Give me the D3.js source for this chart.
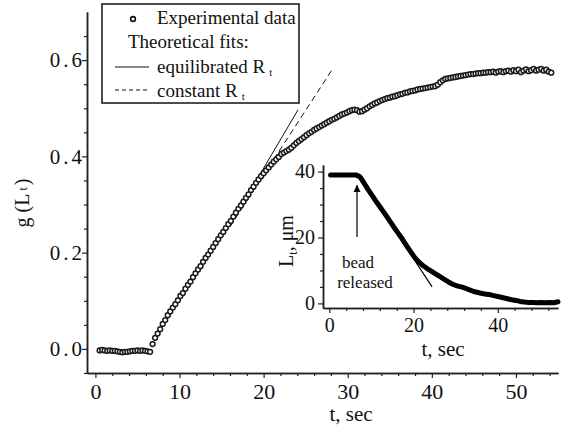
<!DOCTYPE html>
<html>
<head>
<meta charset="utf-8">
<script src="https://cdn.jsdelivr.net/npm/d3@7"></script>
<style>
  body { margin: 0; background: #fff; }
  svg, svg text { font-family: 'Liberation Serif', 'Times New Roman', Times, 'DejaVu Serif', serif; }
</style>
</head>
<body>
<div id="chart"></div>
<script>
const serif = "'Liberation Serif', 'Times New Roman', Times, 'DejaVu Serif', serif"

// Data
// main curve: g(L_t), sampled every 0.3 s starting at 0.5 s
const gStart = 0.5
const gStep = 0.3
const gValues = [
  -0.003, -0.002, -0.003, -0.004, -0.003, -0.004, -0.004, -0.005, -0.006, -0.007,
  -0.006, -0.006, -0.005, -0.004, -0.004, -0.003, -0.004, -0.003, -0.004, -0.005,
  -0.006,
  0.010, 0.023, 0.032, 0.041, 0.052, 0.060, 0.070, 0.078, 0.086, 0.093,
  0.101, 0.110, 0.116, 0.125, 0.133, 0.140, 0.149, 0.157, 0.165, 0.172,
  0.181, 0.189, 0.196, 0.204, 0.212, 0.220, 0.228, 0.236, 0.243, 0.251,
  0.259, 0.266, 0.275, 0.283, 0.291, 0.298, 0.306, 0.314, 0.321, 0.330,
  0.337, 0.345, 0.352, 0.359, 0.365, 0.371, 0.377, 0.383, 0.389, 0.394,
  0.399, 0.405, 0.408, 0.411, 0.414, 0.418, 0.423, 0.428, 0.432, 0.436,
  0.440, 0.444, 0.448, 0.451, 0.455, 0.458, 0.461, 0.464, 0.467, 0.470,
  0.473, 0.476, 0.478, 0.481, 0.484, 0.487, 0.489, 0.491, 0.494, 0.496,
  0.497, 0.496, 0.493, 0.494, 0.497, 0.500, 0.504, 0.507, 0.510, 0.512,
  0.515, 0.517, 0.519, 0.521, 0.522, 0.524, 0.525, 0.527, 0.529, 0.530,
  0.532, 0.533, 0.535, 0.536, 0.537, 0.539, 0.540, 0.541, 0.542, 0.543,
  0.544, 0.545, 0.546, 0.549, 0.554, 0.558, 0.561, 0.562, 0.563, 0.564,
  0.565, 0.566, 0.567, 0.568, 0.569, 0.570, 0.571, 0.571, 0.572, 0.573,
  0.573, 0.574, 0.574, 0.575, 0.575, 0.576, 0.574, 0.576, 0.577, 0.575,
  0.577, 0.578, 0.576, 0.579, 0.577, 0.580, 0.575, 0.578, 0.581, 0.577,
  0.579, 0.582, 0.578, 0.580, 0.582, 0.578, 0.580, 0.576, 0.574
]
// theoretical fits (start / end points, t in s)
const fitEquilibrated = [[16, 0.257], [24.1, 0.497]]
const fitConstant = [[16, 0.254], [28.06, 0.578]]

// inset: L_t in um, sampled every 1 s starting at 0.3 s
const lStart = 0.3
const lStep = 1
const lValues = [
  39, 39, 39, 39, 39, 39, 39,
  38.4, 36.4, 34.4, 32.5, 30.6, 28.8, 27.0, 25.1, 23.2, 21.4,
  19.6, 17.6, 15.7, 13.9, 12.5, 11.4, 10.5, 9.7, 8.9, 8.1,
  7.3, 6.5, 5.8, 5.3, 5.0, 4.6, 4.1, 3.6, 3.3, 3.0,
  2.8, 2.6, 2.3, 2.0, 1.7, 1.4, 1.1, 0.9, 0.6, 0.4,
  0.3, 0.3, 0.2, 0.3, 0.2, 0.3, 0.2, 0.5
]
const lFit = [[7.3, 38.4], [24.4, 5]]

const xTicks = [0, 10, 20, 30, 40, 50]
const yTicks = [0.0, 0.2, 0.4, 0.6]
const insetXTicks = [0, 20, 40]
const insetYTicks = [0, 20, 40]

const mainData = gValues.map((v, i) => ({ t: gStart + i * gStep, g: v }))
const insetData = lValues.map((v, i) => ({ t: lStart + i * lStep, L: v }))

// Dimensions
const width = 573
const height = 434

const svg = d3.select('#chart')
  .append('svg')
  .attr('width', width)
  .attr('height', height)
  .attr('font-family', serif)

// Scales
const x = d3.scaleLinear().domain([-1, 55]).range([87, 558])
const y = d3.scaleLinear().domain([-0.05, 0.7]).range([373, 12])

const ink = '#222'

// Axes
function styleAxis(g) {
  g.attr('font-family', serif)
  g.select('.domain').attr('stroke', ink).attr('stroke-width', 1.5)
  g.selectAll('.tick line').attr('stroke', ink).attr('stroke-width', 1.2)
}

const xMinor = d3.range(0, 55, 2).filter(v => v % 10 !== 0)
svg.append('g')
  .attr('transform', `translate(0, ${y.range()[0]})`)
  .call(d3.axisBottom(x).tickValues(xMinor).tickSize(3).tickFormat('').tickSizeOuter(0))
  .call(styleAxis)

svg.append('g')
  .attr('transform', `translate(0, ${y.range()[0]})`)
  .call(d3.axisBottom(x).tickValues(xTicks).tickSize(5).tickSizeOuter(0).tickPadding(5))
  .call(styleAxis)
  .call(g => g.selectAll('text')
    .attr('font-size', 22).attr('fill', '#111'))

const yMinor = [-0.05, 0.05, 0.1, 0.15, 0.25, 0.3, 0.35, 0.45, 0.5, 0.55, 0.65]
svg.append('g')
  .attr('transform', `translate(${x.range()[0]}, 0)`)
  .call(d3.axisLeft(y).tickValues(yMinor).tickSize(3).tickFormat('').tickSizeOuter(0))
  .call(styleAxis)

svg.append('g')
  .attr('transform', `translate(${x.range()[0]}, 0)`)
  .call(d3.axisLeft(y).tickValues(yTicks).tickSize(5).tickSizeOuter(0)
    .tickFormat(d3.format('.1f')).tickPadding(0))
  .call(styleAxis)
  .call(g => g.selectAll('text')
    .attr('font-size', 21).attr('fill', '#111')
    .attr('dx', 3)
    .attr('letter-spacing', '3px'))

// axis titles
svg.append('text')
  .attr('x', 351).attr('y', 421)
  .attr('text-anchor', 'middle')
  .attr('font-size', 21)
  .attr('fill', '#111')
  .text('t, sec')

svg.append('text')
  .attr('transform', 'translate(29, 203) rotate(-90)')
  .attr('text-anchor', 'middle')
  .attr('font-size', 20)
  .attr('fill', '#111')
  .call(t => t.append('tspan').text('g (L'))
  .call(t => t.append('tspan').attr('font-size', 12).attr('dx', 3).attr('dy', -2).text('t'))
  .call(t => t.append('tspan').attr('dy', 2).attr('dx', 2).text(')'))

// Fit lines
const line = d3.line().x(d => x(d[0])).y(d => y(d[1]))

svg.append('path')
  .attr('d', line(fitEquilibrated))
  .attr('fill', 'none')
  .attr('stroke', '#111')
  .attr('stroke-width', 1)

svg.append('path')
  .attr('d', line(fitConstant))
  .attr('fill', 'none')
  .attr('stroke', '#111')
  .attr('stroke-width', 1)
  .attr('stroke-dasharray', '6,4')

// Experimental points
svg.append('g')
  .selectAll('circle')
  .data(mainData)
  .join('circle')
  .attr('cx', d => x(d.t))
  .attr('cy', d => y(d.g))
  .attr('r', 2.4)
  .attr('fill', '#fff')
  .attr('stroke', '#1a1a1a')
  .attr('stroke-width', 1.5)

// Legend
const legend = svg.append('g')
legend.append('rect')
  .attr('x', 102).attr('y', 4)
  .attr('width', 197).attr('height', 99)
  .attr('fill', '#fff')
  .attr('stroke', '#111')
  .attr('stroke-width', 1.5)

legend.append('circle')
  .attr('cx', 133).attr('cy', 19).attr('r', 2.4)
  .attr('fill', '#fff').attr('stroke', '#111').attr('stroke-width', 1.6)

const legendText = (yy, xx) => legend.append('text')
  .attr('x', xx).attr('y', yy)
  .attr('font-size', 19)
  .attr('fill', '#111')

legendText(24, 157).text('Experimental data')
legendText(48, 128).text('Theoretical fits:')
legendText(73, 157)
  .call(t => t.append('tspan').text('equilibrated R'))
  .call(t => t.append('tspan').attr('font-size', 11).attr('dx', 4).attr('dy', 3).text('t'))
legendText(97, 157)
  .call(t => t.append('tspan').text('constant R'))
  .call(t => t.append('tspan').attr('font-size', 11).attr('dx', 4).attr('dy', 3).text('t'))

legend.append('line')
  .attr('x1', 115).attr('x2', 149).attr('y1', 67).attr('y2', 67)
  .attr('stroke', '#111').attr('stroke-width', 1.2)
legend.append('line')
  .attr('x1', 115).attr('x2', 149).attr('y1', 90).attr('y2', 90)
  .attr('stroke', '#111').attr('stroke-width', 1.2)
  .attr('stroke-dasharray', '4,3')

// Inset
const ix = d3.scaleLinear().domain([-1.5, 54.3]).range([323, 558])
const iy = d3.scaleLinear().domain([-1.4, 42]).range([308, 165])

const inset = svg.append('g')

const ixMinor = d3.range(4, 54, 4).filter(v => v % 20 !== 0)
inset.append('g')
  .attr('transform', `translate(0, ${iy.range()[0]})`)
  .call(d3.axisBottom(ix).tickValues(ixMinor).tickSize(3).tickFormat('').tickSizeOuter(0))
  .call(styleAxis)
inset.append('g')
  .attr('transform', `translate(0, ${iy.range()[0]})`)
  .call(d3.axisBottom(ix).tickValues(insetXTicks).tickSize(5).tickSizeOuter(0).tickPadding(5))
  .call(styleAxis)
  .call(g => g.selectAll('text')
    .attr('font-size', 20).attr('fill', '#111'))

const iyMinor = [5, 10, 15, 25, 30, 35]
inset.append('g')
  .attr('transform', `translate(${ix.range()[0]}, 0)`)
  .call(d3.axisLeft(iy).tickValues(iyMinor).tickSize(3).tickFormat('').tickSizeOuter(0))
  .call(styleAxis)
inset.append('g')
  .attr('transform', `translate(${ix.range()[0]}, 0)`)
  .call(d3.axisLeft(iy).tickValues(insetYTicks).tickSize(5).tickSizeOuter(0).tickPadding(3))
  .call(styleAxis)
  .call(g => g.selectAll('text')
    .attr('font-size', 20).attr('fill', '#111'))

inset.append('text')
  .attr('x', 443).attr('y', 356)
  .attr('text-anchor', 'middle')
  .attr('font-size', 21)
  .attr('fill', '#111')
  .text('t, sec')

inset.append('text')
  .attr('transform', 'translate(293, 241) rotate(-90)')
  .attr('text-anchor', 'middle')
  .attr('font-size', 20)
  .attr('fill', '#111')
  .call(t => t.append('tspan').text('L'))
  .call(t => t.append('tspan').attr('font-size', 12).attr('dy', 4).text('t'))
  .call(t => t.append('tspan').attr('dy', -4).text(', μm'))

const iline = d3.line().x(d => ix(d.t)).y(d => iy(d.L))
inset.append('path')
  .attr('d', iline(insetData))
  .attr('fill', 'none')
  .attr('stroke', '#000')
  .attr('stroke-width', 5)
  .attr('stroke-linejoin', 'round')
  .attr('stroke-linecap', 'round')

inset.append('path')
  .attr('d', d3.line().x(d => ix(d[0])).y(d => iy(d[1]))(lFit))
  .attr('fill', 'none')
  .attr('stroke', '#000')
  .attr('stroke-width', 1.2)

// arrow
svg.append('defs').append('marker')
  .attr('id', 'head')
  .attr('viewBox', '0 0 10 10')
  .attr('refX', 10).attr('refY', 5)
  .attr('markerWidth', 7).attr('markerHeight', 11)
  .attr('markerUnits', 'userSpaceOnUse')
  .attr('orient', 'auto')
  .append('path')
  .attr('d', 'M0,0 L10,5 L0,10 Z')
  .attr('fill', '#000')

inset.append('line')
  .attr('x1', 357).attr('x2', 357)
  .attr('y1', 237).attr('y2', 185)
  .attr('stroke', '#000').attr('stroke-width', 1.2)
  .attr('marker-end', 'url(#head)')

inset.append('text')
  .attr('x', 358).attr('y', 268)
  .attr('text-anchor', 'middle')
  .attr('font-size', 17)
  .attr('fill', '#111')
  .text('bead')
inset.append('text')
  .attr('x', 365).attr('y', 288)
  .attr('text-anchor', 'middle')
  .attr('font-size', 17)
  .attr('fill', '#111')
  .text('released')
</script>
</body>
</html>
